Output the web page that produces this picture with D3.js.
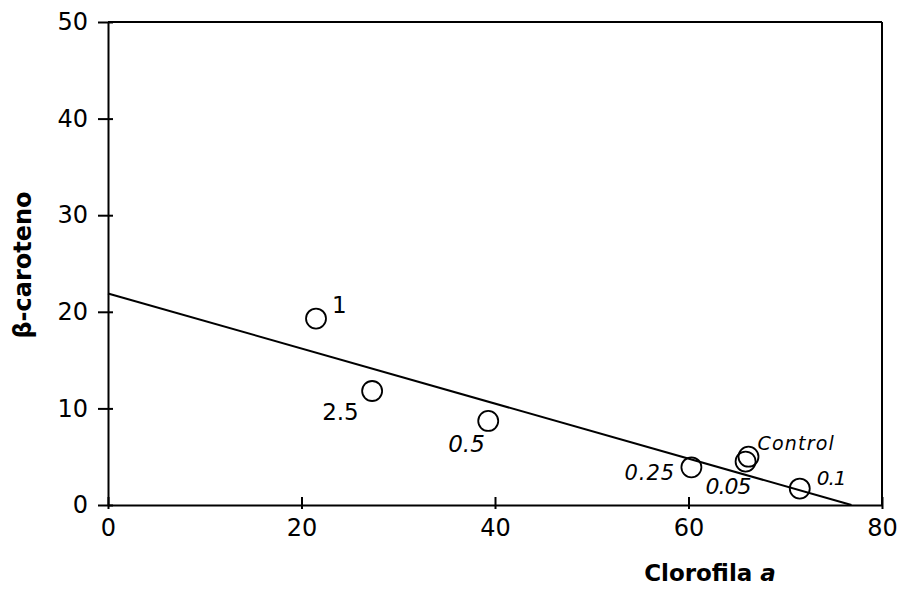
<!DOCTYPE html>
<html>
<head>
<meta charset="utf-8">
<script src="https://cdn.jsdelivr.net/npm/d3@7"></script>
<style>
  html, body { margin: 0; padding: 0; background: #fff; }
  svg { display: block; }
</style>
</head>
<body>
<svg id="chart" width="910" height="590"></svg>
<script>
// Treatment labels and their chlorophyll a / beta-carotene values
const treatments = ["1", "2.5", "0.5", "0.25", "0.05", "Control", "0.1"];
const clorofilaA = [21.5, 27.3, 39.3, 60.3, 65.9, 66.2, 71.5];
const betaCaroteno = [19.3, 11.8, 8.7, 3.9, 4.5, 5.0, 1.7];

// Linear fit: beta-carotene = intercept + slope * chlorophyll a
const fitIntercept = 21.9;
const fitSlope = -0.285;

const xTicks = [0, 20, 40, 60, 80];
const yTicks = [0, 10, 20, 30, 40, 50];

const svg = d3.select("#chart");
const plotLeft = 108, plotRight = 882, plotTop = 22, plotBottom = 505;

const x = d3.scaleLinear().domain([0, 80]).range([plotLeft, plotRight]);
const y = d3.scaleLinear().domain([0, 50]).range([plotBottom, plotTop]);

const ink = "#000";
const font = "DejaVu Sans, Verdana, sans-serif";

// Frame: top and right edges
svg.append("line").attr("x1", plotLeft).attr("x2", plotRight).attr("y1", plotTop).attr("y2", plotTop)
  .attr("stroke", ink).attr("stroke-width", 2);
svg.append("line").attr("x1", plotRight).attr("x2", plotRight).attr("y1", plotTop).attr("y2", plotBottom)
  .attr("stroke", ink).attr("stroke-width", 2);

// Y axis with ticks crossing the axis line
const yAxis = svg.append("g").attr("transform", `translate(${plotLeft},0)`)
  .call(d3.axisLeft(y).tickValues(yTicks).tickSize(0).tickPadding(20).tickSizeOuter(0));
yAxis.select(".domain").attr("stroke", ink).attr("stroke-width", 2);
yAxis.selectAll(".tick line").attr("x1", -10).attr("x2", 5).attr("stroke", ink).attr("stroke-width", 2);
yAxis.selectAll(".tick text").attr("font-family", font).attr("font-size", 24).attr("fill", ink);

// X axis
const xAxis = svg.append("g").attr("transform", `translate(0,${plotBottom})`)
  .call(d3.axisBottom(x).tickValues(xTicks).tickSize(0).tickPadding(14).tickSizeOuter(0));
xAxis.select(".domain").attr("stroke", ink).attr("stroke-width", 2);
xAxis.selectAll(".tick line").attr("y1", -8).attr("y2", 4).attr("stroke", ink).attr("stroke-width", 2);
xAxis.selectAll(".tick text").attr("font-family", font).attr("font-size", 24).attr("fill", ink);

// Regression line from the y-intercept down to where it meets the x axis
const xEnd = -fitIntercept / fitSlope;
const fitLine = d3.line().x(d => x(d)).y(d => y(fitIntercept + fitSlope * d));
svg.append("path").datum([0, xEnd]).attr("d", fitLine)
  .attr("fill", "none").attr("stroke", ink).attr("stroke-width", 2);

// Points
const pts = treatments.map((t, i) => ({ t, cx: clorofilaA[i], cy: betaCaroteno[i] }));
svg.selectAll("circle.pt").data(pts).enter().append("circle").attr("class", "pt")
  .attr("cx", d => x(d.cx)).attr("cy", d => y(d.cy)).attr("r", 10)
  .attr("fill", "none").attr("stroke", ink).attr("stroke-width", 1.8);

// Point labels: offset from the point centre and style
const labelStyle = {
  "1":       { dx: 16,  dy: -6,  italic: false, size: 23 },
  "2.5":     { dx: -50, dy: 29,  italic: false, size: 23 },
  "0.5":     { dx: -40, dy: 31,  italic: true,  size: 23 },
  "0.25":    { dx: -67, dy: 13,  italic: true,  size: 21, spacing: 1 },
  "0.05":    { dx: -40, dy: 32,  italic: true,  size: 22, spacing: -1 },
  "Control": { dx: 9,   dy: -7,  italic: true,  size: 19, spacing: 1.2 },
  "0.1":     { dx: 17,  dy: -4,  italic: true,  size: 20, spacing: -1 }
};
svg.selectAll("text.lbl").data(pts).enter().append("text").attr("class", "lbl")
  .attr("x", d => x(d.cx) + labelStyle[d.t].dx)
  .attr("y", d => y(d.cy) + labelStyle[d.t].dy)
  .attr("font-family", font)
  .attr("font-size", d => labelStyle[d.t].size)
  .attr("font-style", d => labelStyle[d.t].italic ? "italic" : "normal")
  .attr("letter-spacing", d => labelStyle[d.t].spacing || 0)
  .attr("fill", ink)
  .text(d => d.t);

// Axis titles
svg.append("text")
  .attr("transform", `translate(31,265) rotate(-90)`)
  .attr("text-anchor", "middle")
  .attr("font-family", font).attr("font-weight", "bold").attr("font-size", 24)
  .attr("fill", ink)
  .text("β-caroteno");

const xt = svg.append("text")
  .attr("x", 710).attr("y", 581)
  .attr("text-anchor", "middle")
  .attr("font-family", font).attr("font-weight", "bold").attr("font-size", 23)
  .attr("fill", ink);
xt.append("tspan").text("Clorofila ");
xt.append("tspan").attr("font-style", "italic").text("a");
</script>
</body>
</html>
